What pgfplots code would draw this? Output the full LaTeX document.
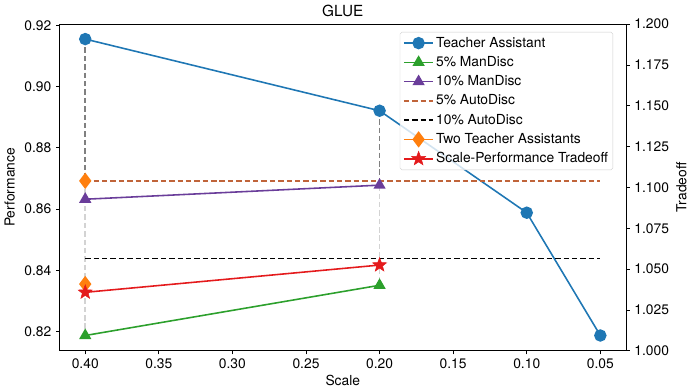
\documentclass[border=0pt]{standalone}
\usepackage{fontspec}
\setmainfont{TeX Gyre Heros}
\usepackage{pgfplots}
\pgfplotsset{compat=1.18}
\definecolor{cblue}{HTML}{1F77B4}
\definecolor{cgreen}{HTML}{2CA02C}
\definecolor{cpurple}{HTML}{6A3D9A}
\definecolor{corange}{HTML}{FF7F0E}
\definecolor{cred}{HTML}{E41A1C}
\definecolor{cbrown}{HTML}{C0643A}
\definecolor{cdgray}{HTML}{808080}
\definecolor{clgray}{HTML}{D3D3D3}
\pgfdeclareplotmark{fstar}{%
  \pgfpathmoveto{\pgfpointpolar{90}{\pgfplotmarksize}}%
  \pgfpathlineto{\pgfpointpolar{126}{0.42\pgfplotmarksize}}%
  \pgfpathlineto{\pgfpointpolar{162}{\pgfplotmarksize}}%
  \pgfpathlineto{\pgfpointpolar{198}{0.42\pgfplotmarksize}}%
  \pgfpathlineto{\pgfpointpolar{234}{\pgfplotmarksize}}%
  \pgfpathlineto{\pgfpointpolar{270}{0.42\pgfplotmarksize}}%
  \pgfpathlineto{\pgfpointpolar{306}{\pgfplotmarksize}}%
  \pgfpathlineto{\pgfpointpolar{342}{0.42\pgfplotmarksize}}%
  \pgfpathlineto{\pgfpointpolar{18}{\pgfplotmarksize}}%
  \pgfpathlineto{\pgfpointpolar{54}{0.42\pgfplotmarksize}}%
  \pgfpathclose
  \pgfusepathqfillstroke
}
\begin{document}
\fontsize{14}{16.5}\selectfont
\begin{tikzpicture}
\pgfplotsset{
  common/.style={
    width=574pt, height=331pt, scale only axis, at={(0,0)},
    /pgf/number format/assume math mode=true,
    tick align=outside, major tick length=3.5pt,
    tick style={black, line width=0.8pt},
    axis line style={black, line width=0.8pt},
    font=\fontsize{14}{16.5}\selectfont,
  }
}
% right axis (Tradeoff)
\begin{axis}[common,
  axis x line=none, axis y line*=right,
  xmin=0, xmax=1, ymin=1, ymax=1.2,
  ytick={1,1.025,1.05,1.075,1.1,1.125,1.15,1.175,1.2},
  yticklabel style={/pgf/number format/.cd, fixed, fixed zerofill, precision=3},
  ylabel={Tradeoff},
  ylabel style={inner sep=2.5pt},
]
\addplot[draw=none, forget plot] coordinates {(0.5,1.1)};
\end{axis}
% main axis
\begin{axis}[common,
  x dir=reverse,
  xmin=0.0325, xmax=0.4175, ymin=0.8137, ymax=0.9204,
  xtick={0.05,0.10,0.15,0.20,0.25,0.30,0.35,0.40},
  ytick={0.82,0.84,0.86,0.88,0.90,0.92},
  xticklabel style={/pgf/number format/.cd, fixed, fixed zerofill, precision=2},
  yticklabel style={/pgf/number format/.cd, fixed, fixed zerofill, precision=2},
  xtick pos=left, ytick pos=left,
  title={GLUE}, xlabel={Scale}, ylabel={Performance},
  title style={font=\fontsize{15.5}{18}\selectfont, yshift=-3pt},
  xlabel style={yshift=3pt},
  legend cell align=left,
  legend image code/.code={\draw[mark repeat=2,mark phase=2] plot coordinates {(0pt,0pt) (15pt,0pt) (30pt,0pt)};},
  legend image post style={opacity=1},
  legend style={at={(0.977,0.976)}, anchor=north east, draw=black!20,
    rounded corners=2pt, fill=white, fill opacity=0.8, text opacity=1,
    row sep=3.2pt, inner sep=3pt, font=\fontsize{14}{16.5}\selectfont},
  unbounded coords=jump,
]
% guide lines
\addplot[clgray, line width=1.6pt, dash pattern=on 5.5pt off 3pt, forget plot] coordinates {(0.40,0.8692) (0.40,0.8187)};
\addplot[clgray, line width=1.6pt, dash pattern=on 5.5pt off 3pt, forget plot] coordinates {(0.20,0.8678) (0.20,0.8351)};
\addplot[cdgray, line width=1.6pt, dash pattern=on 5.5pt off 3pt, forget plot] coordinates {(0.40,0.9155) (0.40,0.8692)};
\addplot[cdgray, line width=1.6pt, dash pattern=on 5.5pt off 3pt, forget plot] coordinates {(0.20,0.8921) (0.20,0.8678)};
% series
\addplot[cblue, line width=1.6pt, mark=*, mark size=5.5pt] coordinates {(0.40,0.9155) (0.20,0.8921) (0.10,0.8588) (0.05,0.8187)};
\addlegendentry{Teacher Assistant}
\addplot[cgreen, line width=1.6pt, mark=triangle*, mark size=5.6pt] coordinates {(0.40,0.8187) (0.20,0.8351)};
\addlegendentry{5\% ManDisc}
\addplot[cpurple, line width=1.6pt, mark=triangle*, mark size=5.6pt] coordinates {(0.40,0.8632) (0.20,0.8678)};
\addlegendentry{10\% ManDisc}
\addplot[cbrown, line width=1.6pt, dash pattern=on 5.5pt off 3pt] coordinates {(0.40,0.8692) (0.05,0.8692)};
\addlegendentry{5\% AutoDisc}
\addplot[black, line width=1.6pt, dash pattern=on 5.5pt off 3pt] coordinates {(0.40,0.8439) (0.05,0.8439)};
\addlegendentry{10\% AutoDisc}
\addplot[corange, line width=1.6pt, mark=diamond*, mark size=7pt] coordinates {(0.40,0.8692) (0.40,nan) (0.40,0.8355)};
\addlegendentry{Two Teacher Assistants}
\addplot[cred, line width=1.6pt, mark=fstar, mark size=7.5pt, mark options={fill=cred, line width=0.5pt}] coordinates {(0.40,0.8328) (0.20,0.8417)};
\addlegendentry{Scale-Performance Tradeoff}
\end{axis}
\end{tikzpicture}
\end{document}
